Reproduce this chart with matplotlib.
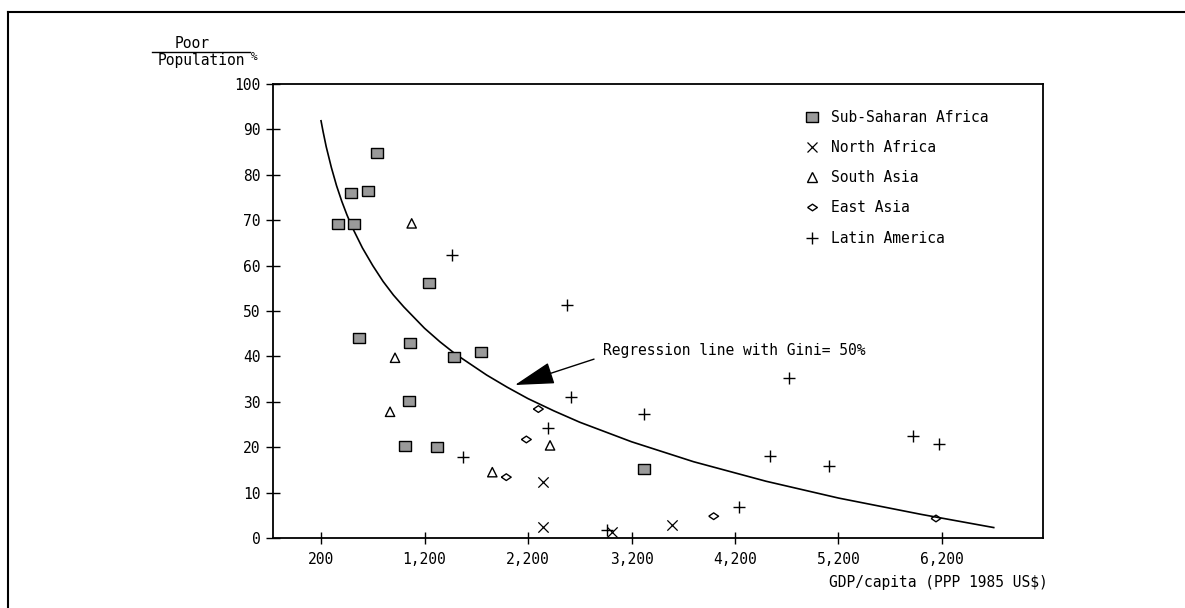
import numpy as np
import matplotlib.pyplot as plt
from matplotlib.lines import Line2D

# Sub-Saharan Africa
ssa_gdp = [367, 490, 519, 654, 741, 567, 1060, 1247, 1485, 1743, 1050, 1012, 1318, 3321]
ssa_poor = [69.1, 75.9, 69.2, 76.4, 84.9, 44.1, 42.9, 56.1, 39.8, 40.9, 30.2, 20.3, 20.0, 15.3]
# North Africa
na_gdp = [2348, 2348, 3009, 3588]
na_poor = [12.3, 2.4, 1.25, 2.9]
# South Asia
sa_gdp = [1076, 915, 867, 1855, 2413]
sa_poor = [69.3, 39.7, 27.8, 14.5, 20.4]
# East Asia
ea_gdp = [1990, 2184, 2300, 3994, 6142]
ea_poor = [13.4, 21.7, 28.4, 4.8, 4.3]
# Latin America
la_gdp = [1469, 2580, 2615, 1569, 2396, 2966, 3321, 4722, 4538, 5108, 5923, 6171, 4239]
la_poor = [62.3, 51.3, 31.0, 17.8, 24.2, 1.8, 27.3, 35.3, 18.0, 15.8, 22.5, 20.6, 6.8]

# regression line
reg_gdp = [200, 220, 250, 300, 350, 400, 450, 500, 600, 700, 800, 900, 1000, 1200, 1350,
           1500, 1800, 2000, 2200, 2450, 2700, 3200, 3800, 4500, 5200, 6000, 6700]
reg_poor = [91.9, 89.5, 86.2, 81.6, 77.6, 74.2, 71.2, 68.5, 63.9, 60.0, 56.5, 53.5, 50.9,
            46.2, 43.2, 40.5, 35.9, 33.2, 30.7, 28.0, 25.5, 21.2, 16.8, 12.5, 8.8, 5.2, 2.3]

xticks = [200, 1200, 2200, 3200, 4200, 5200, 6200]
xticklabels = ["200", "1,200", "2,200", "3,200", "4,200", "5,200", "6,200"]
yticks = list(range(0, 101, 10))

plt.rcParams['font.family'] = 'DejaVu Sans Mono'
plt.rcParams['font.size'] = 10.5

W, H = 1185, 608
fig = plt.figure(figsize=(W / 100, H / 100), dpi=100)
ax = fig.add_axes([273 / W, 1 - 538 / H, (1043 - 273) / W, (538 - 84) / H])

# rectangle marker, a bit wider than tall; flat diamond
rect = [(-1.3, -1), (1.3, -1), (1.3, 1), (-1.3, 1), (-1.3, -1)]
flat_diamond = [(-1.25, 0), (0, 0.85), (1.25, 0), (0, -0.85), (-1.25, 0)]

ax.plot(reg_gdp, reg_poor, color='black', lw=1.2, zorder=2)
ax.scatter(ssa_gdp, ssa_poor, marker=rect, s=75, facecolor='#9a9a9a', edgecolor='black', linewidth=1.0, zorder=3)
ax.scatter(na_gdp, na_poor, marker='x', s=55, color='black', linewidth=0.9, zorder=3)
ax.scatter(sa_gdp, sa_poor, marker='^', s=45, facecolor='none', edgecolor='black', linewidth=1.0, zorder=3)
ax.scatter(ea_gdp, ea_poor, marker=flat_diamond, s=50, facecolor='none', edgecolor='black', linewidth=1.0, zorder=3)
ax.scatter(la_gdp, la_poor, marker='+', s=65, color='black', linewidth=1.0, zorder=3)

ax.set_xlim(-264, 7176)
ax.set_ylim(0, 100)
ax.set_xticks(xticks)
ax.set_xticklabels(xticklabels)
ax.set_yticks(yticks)
ax.tick_params(axis='x', direction='inout', length=8, width=1, pad=6)
ax.tick_params(axis='y', direction='inout', length=10, width=1, pad=4)
for s in ax.spines.values():
    s.set_linewidth(1.3)

# annotation
ax.annotate('', xy=(2074, 33.7), xytext=(2838, 39.4),
            arrowprops=dict(arrowstyle='-|>,head_length=2.5,head_width=0.7',
                            color='black', lw=1, shrinkA=0, shrinkB=0, mutation_scale=10))
ax.text(2925, 41.4, "Regression line with Gini= 50%", ha='left', va='center')

# legend
handles = [
    Line2D([], [], ls='none', marker=rect, markersize=9, markerfacecolor='#9a9a9a', markeredgecolor='black'),
    Line2D([], [], ls='none', marker='x', markersize=7.5, color='black', markeredgewidth=0.9),
    Line2D([], [], ls='none', marker='^', markersize=7, markerfacecolor='none', markeredgecolor='black'),
    Line2D([], [], ls='none', marker=flat_diamond, markersize=7, markerfacecolor='none', markeredgecolor='black'),
    Line2D([], [], ls='none', marker='+', markersize=8, color='black'),
]
labels = ["Sub-Saharan Africa", "North Africa", "South Asia", "East Asia", "Latin America"]
ax.legend(handles, labels, loc='upper left', bbox_to_anchor=(805 / W, 1 - 110 / H),
          bbox_transform=fig.transFigure, frameon=False, borderpad=0, borderaxespad=0,
          handlelength=1.0, handletextpad=0.8, labelspacing=1.04)

# axis titles
fig.text(1048 / W, 1 - 582 / H, "GDP/capita (PPP 1985 US$)", ha='right', va='center')
fig.text(192 / W, 1 - 43 / H, "Poor", ha='center', va='center')
fig.add_artist(Line2D([152 / W, 250 / W], [1 - 52 / H, 1 - 52 / H], transform=fig.transFigure, color='black', lw=1))
fig.text(201 / W, 1 - 61 / H, "Population", ha='center', va='center')
fig.text(251 / W, 1 - 57 / H, "%", ha='left', va='center', fontsize=8)

# frame around the figure (top and left)
fig.add_artist(Line2D([7.5 / W, 7.5 / W], [0, 1 - 12 / H], transform=fig.transFigure, color='black', lw=1.5))
fig.add_artist(Line2D([7.5 / W, 1], [1 - 12 / H, 1 - 12 / H], transform=fig.transFigure, color='black', lw=1.5))

fig.savefig("out.png", dpi=100)
